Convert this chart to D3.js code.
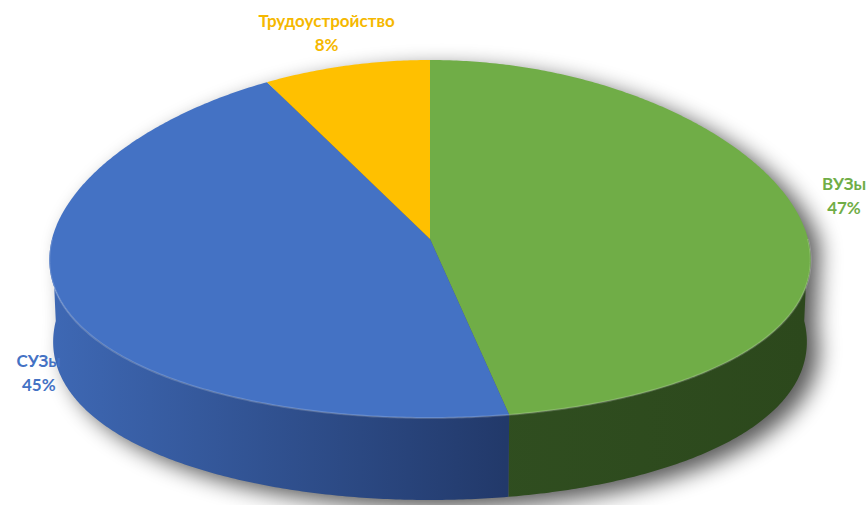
<!DOCTYPE html>
<html>
<head>
<meta charset="utf-8">
<script src="https://cdn.jsdelivr.net/npm/d3@7"></script>
<style>
  body { margin: 0; background: #fff; }
  svg { display: block; }
</style>
</head>
<body>
<div id="chart"></div>
<script>
const categories = ['ВУЗы', 'СУЗы', 'Трудоустройство']
const values = [47, 45, 8]
const topColors = ['#70ad47', '#4472c4', '#ffc000']
const labelColors = ['#70ad47', '#4472c4', '#f5b800']
const sideLight = ['#355625', '#3e68b4', '#c89600']
const sideDark = ['#2c481c', '#22396a', '#a07800']

const width = 868, height = 505
const cx = 430, cy = 239, rx = 378, ry = 179, depth = 82
const persp = 0.12 // front wider than back

let svg = d3.select('#chart').append('svg')
  .attr('width', width)
  .attr('height', height)

let defs = svg.append('defs')

defs.append('filter')
  .attr('id', 'shadow')
  .attr('x', '-20%').attr('y', '-20%')
  .attr('width', '140%').attr('height', '140%')
  .append('feGaussianBlur')
  .attr('stdDeviation', 11)

categories.forEach((c, i) => {
  let g = defs.append('linearGradient')
    .attr('id', 'side' + i)
    .attr('gradientUnits', 'userSpaceOnUse')
    .attr('x1', cx - rx).attr('x2', cx + rx)
    .attr('y1', 0).attr('y2', 0)
  if (i === 0) {
    g.append('stop').attr('offset', '0%').attr('stop-color', sideLight[i])
    g.append('stop').attr('offset', '100%').attr('stop-color', sideDark[i])
  } else {
    g.append('stop').attr('offset', '0%').attr('stop-color', sideLight[i])
    g.append('stop').attr('offset', '60%').attr('stop-color', sideDark[i])
  }
})

const pie = d3.pie().sort(null).value(d => d)
const arcs = pie(values)

// point on the top rim, with a mild perspective
const pt = a => {
  let y = cy - ry * Math.cos(a)
  let s = 1 + persp * (y - cy) / ry
  return [cx + rx * Math.sin(a) * s, y]
}

const line = d3.line().x(d => d[0]).y(d => d[1])

const arcPoints = (a0, a1, dy, shrink = 0) => {
  let n = Math.max(2, Math.ceil((a1 - a0) / 0.01))
  return d3.range(n + 1).map(k => {
    let a = a0 + (a1 - a0) * k / n
    let p = pt(a)
    return [cx + (p[0] - cx) * (1 - shrink), p[1] + dy]
  })
}

// shadow under the whole disc
let full = arcPoints(Math.PI / 2, Math.PI * 3 / 2, depth, 0.01)
let back = arcPoints(-Math.PI / 2, Math.PI / 2, 0)
svg.append('path')
  .attr('d', line(back.concat(full)) + 'Z')
  .attr('transform', 'translate(12,8)')
  .attr('fill', '#000')
  .attr('opacity', 0.65)
  .attr('filter', 'url(#shadow)')

let sides = svg.append('g')
let tops = svg.append('g')
let labels = svg.append('g')

// side walls, only the front half is visible
arcs.forEach((d, i) => {
  let s = Math.max(d.startAngle, Math.PI / 2)
  let e = Math.min(d.endAngle, Math.PI * 3 / 2)
  if (e <= s) return
  let topPts = arcPoints(s, e, 0)
  let botPts = arcPoints(s, e, depth, 0.01).reverse()
  sides.append('path')
    .attr('d', line(topPts.concat(botPts)) + 'Z')
    .attr('fill', `url(#side${i})`)
})

// top faces
arcs.forEach((d, i) => {
  let pts = [[cx, cy]].concat(arcPoints(d.startAngle, d.endAngle, 0))
  tops.append('path')
    .attr('d', line(pts) + 'Z')
    .attr('fill', topColors[i])
})

// faint rim highlight along the front edge
tops.append('path')
  .attr('d', line(arcPoints(Math.PI / 2, Math.PI * 3 / 2, 0)))
  .attr('fill', 'none')
  .attr('stroke', '#ffffff')
  .attr('stroke-opacity', 0.18)
  .attr('stroke-width', 2)

// labels
const fmt = d3.format('.0%')
const total = d3.sum(values)
arcs.forEach((d, i) => {
  let m = (d.startAngle + d.endAngle) / 2
  let x = cx + rx * 1.1 * Math.sin(m)
  let y = cy - ry * 1.2 * Math.cos(m)
  if (Math.cos(m) < 0) y += depth * 0.72
  if (Math.abs(Math.cos(m)) < 0.2) y -= 25
  let t = labels.append('text')
    .attr('x', x)
    .attr('y', y)
    .attr('text-anchor', 'middle')
    .attr('fill', labelColors[i])
    .style('font-family', 'Lato, "Open Sans", sans-serif')
    .style('font-weight', 'bold')
    .style('font-size', '17px')
  t.append('tspan').attr('x', x).attr('dy', '-0.25em').text(categories[i])
  t.append('tspan').attr('x', x).attr('dy', '1.45em').text(fmt(d.data / total))
})
</script>
</body>
</html>
